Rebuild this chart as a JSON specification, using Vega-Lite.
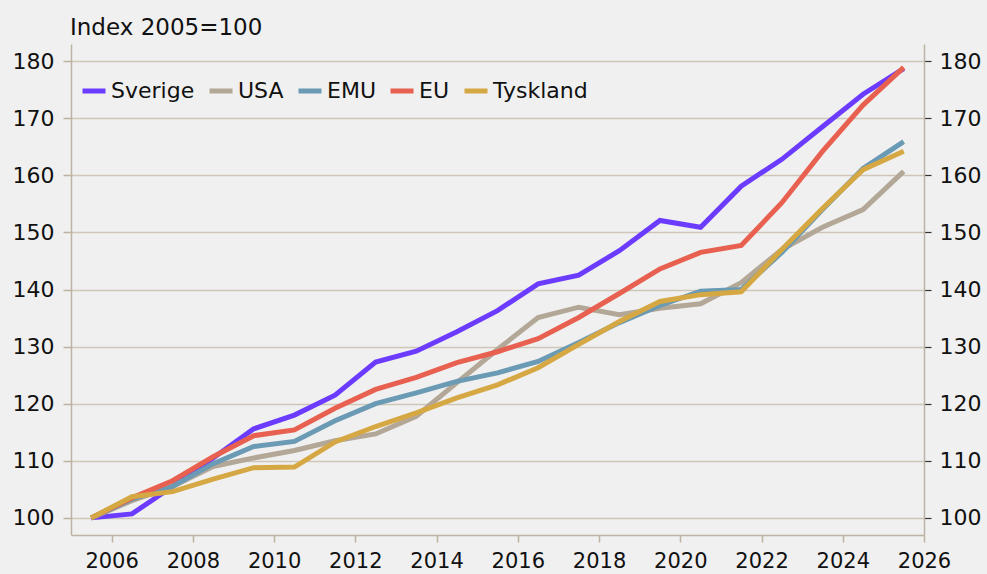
{
  "$schema": "https://vega.github.io/schema/vega-lite/v6.json",
  "autosize": {"type": "none"},
  "width": 853,
  "height": 491,
  "padding": {"left": 71, "top": 44, "right": 63, "bottom": 39},
  "background": "#f0f0f0",
  "config": {
    "view": {"stroke": null},
    "font": "DejaVu Sans",
    "axis": {"labelFont": "DejaVu Sans", "labelFontSize": 22, "labelColor": "#111111", "domainColor": "#bdb3a3", "tickColor": "#bdb3a3", "gridColor": "#cfc6b7", "domainWidth": 1.5, "tickWidth": 1.5, "gridWidth": 1.5, "labelOverlap": false, "labelFlush": false}
  },
  "title": {"text": "Index 2005=100", "anchor": "start", "frame": "group", "fontSize": 23, "fontWeight": "normal", "font": "DejaVu Sans", "color": "#111111", "offset": 4, "dx": -1},
  "data": {"values": [
    {"year": 2005.5, "country": "Sverige", "value": 100},
    {"year": 2006.5, "country": "Sverige", "value": 100.7},
    {"year": 2007.5, "country": "Sverige", "value": 105.5},
    {"year": 2008.5, "country": "Sverige", "value": 110.5},
    {"year": 2009.5, "country": "Sverige", "value": 115.6},
    {"year": 2010.5, "country": "Sverige", "value": 118},
    {"year": 2011.5, "country": "Sverige", "value": 121.5},
    {"year": 2012.5, "country": "Sverige", "value": 127.3},
    {"year": 2013.5, "country": "Sverige", "value": 129.2},
    {"year": 2014.5, "country": "Sverige", "value": 132.6},
    {"year": 2015.5, "country": "Sverige", "value": 136.3},
    {"year": 2016.5, "country": "Sverige", "value": 141},
    {"year": 2017.5, "country": "Sverige", "value": 142.5},
    {"year": 2018.5, "country": "Sverige", "value": 146.8},
    {"year": 2019.5, "country": "Sverige", "value": 152.1},
    {"year": 2020.5, "country": "Sverige", "value": 150.9},
    {"year": 2021.5, "country": "Sverige", "value": 158.1},
    {"year": 2022.5, "country": "Sverige", "value": 162.8},
    {"year": 2023.5, "country": "Sverige", "value": 168.5},
    {"year": 2024.5, "country": "Sverige", "value": 174.2},
    {"year": 2025.5, "country": "Sverige", "value": 178.7},
    {"year": 2005.5, "country": "USA", "value": 100},
    {"year": 2006.5, "country": "USA", "value": 103},
    {"year": 2007.5, "country": "USA", "value": 105.5},
    {"year": 2008.5, "country": "USA", "value": 109},
    {"year": 2009.5, "country": "USA", "value": 110.5},
    {"year": 2010.5, "country": "USA", "value": 111.8},
    {"year": 2011.5, "country": "USA", "value": 113.5},
    {"year": 2012.5, "country": "USA", "value": 114.7},
    {"year": 2013.5, "country": "USA", "value": 117.8},
    {"year": 2014.5, "country": "USA", "value": 123.7},
    {"year": 2015.5, "country": "USA", "value": 129.5},
    {"year": 2016.5, "country": "USA", "value": 135.1},
    {"year": 2017.5, "country": "USA", "value": 136.9},
    {"year": 2018.5, "country": "USA", "value": 135.6},
    {"year": 2019.5, "country": "USA", "value": 136.7},
    {"year": 2020.5, "country": "USA", "value": 137.5},
    {"year": 2021.5, "country": "USA", "value": 141.2},
    {"year": 2022.5, "country": "USA", "value": 147},
    {"year": 2023.5, "country": "USA", "value": 150.9},
    {"year": 2024.5, "country": "USA", "value": 154},
    {"year": 2025.5, "country": "USA", "value": 160.7},
    {"year": 2005.5, "country": "EMU", "value": 100},
    {"year": 2006.5, "country": "EMU", "value": 103.3},
    {"year": 2007.5, "country": "EMU", "value": 105.5},
    {"year": 2008.5, "country": "EMU", "value": 109.5},
    {"year": 2009.5, "country": "EMU", "value": 112.5},
    {"year": 2010.5, "country": "EMU", "value": 113.4},
    {"year": 2011.5, "country": "EMU", "value": 117},
    {"year": 2012.5, "country": "EMU", "value": 120},
    {"year": 2013.5, "country": "EMU", "value": 121.9},
    {"year": 2014.5, "country": "EMU", "value": 123.9},
    {"year": 2015.5, "country": "EMU", "value": 125.4},
    {"year": 2016.5, "country": "EMU", "value": 127.4},
    {"year": 2017.5, "country": "EMU", "value": 130.7},
    {"year": 2018.5, "country": "EMU", "value": 134.2},
    {"year": 2019.5, "country": "EMU", "value": 137.2},
    {"year": 2020.5, "country": "EMU", "value": 139.7},
    {"year": 2021.5, "country": "EMU", "value": 140},
    {"year": 2022.5, "country": "EMU", "value": 146.5},
    {"year": 2023.5, "country": "EMU", "value": 154},
    {"year": 2024.5, "country": "EMU", "value": 161.2},
    {"year": 2025.5, "country": "EMU", "value": 165.9},
    {"year": 2005.5, "country": "EU", "value": 100},
    {"year": 2006.5, "country": "EU", "value": 103.5},
    {"year": 2007.5, "country": "EU", "value": 106.5},
    {"year": 2008.5, "country": "EU", "value": 110.7},
    {"year": 2009.5, "country": "EU", "value": 114.4},
    {"year": 2010.5, "country": "EU", "value": 115.4},
    {"year": 2011.5, "country": "EU", "value": 119.2},
    {"year": 2012.5, "country": "EU", "value": 122.5},
    {"year": 2013.5, "country": "EU", "value": 124.6},
    {"year": 2014.5, "country": "EU", "value": 127.2},
    {"year": 2015.5, "country": "EU", "value": 129.1},
    {"year": 2016.5, "country": "EU", "value": 131.4},
    {"year": 2017.5, "country": "EU", "value": 135.1},
    {"year": 2018.5, "country": "EU", "value": 139.3},
    {"year": 2019.5, "country": "EU", "value": 143.6},
    {"year": 2020.5, "country": "EU", "value": 146.5},
    {"year": 2021.5, "country": "EU", "value": 147.7},
    {"year": 2022.5, "country": "EU", "value": 155.2},
    {"year": 2023.5, "country": "EU", "value": 164.2},
    {"year": 2024.5, "country": "EU", "value": 172.3},
    {"year": 2025.5, "country": "EU", "value": 178.9},
    {"year": 2005.5, "country": "Tyskland", "value": 100},
    {"year": 2006.5, "country": "Tyskland", "value": 103.7},
    {"year": 2007.5, "country": "Tyskland", "value": 104.6},
    {"year": 2008.5, "country": "Tyskland", "value": 106.8},
    {"year": 2009.5, "country": "Tyskland", "value": 108.8},
    {"year": 2010.5, "country": "Tyskland", "value": 108.9},
    {"year": 2011.5, "country": "Tyskland", "value": 113.3},
    {"year": 2012.5, "country": "Tyskland", "value": 116},
    {"year": 2013.5, "country": "Tyskland", "value": 118.4},
    {"year": 2014.5, "country": "Tyskland", "value": 121},
    {"year": 2015.5, "country": "Tyskland", "value": 123.3},
    {"year": 2016.5, "country": "Tyskland", "value": 126.3},
    {"year": 2017.5, "country": "Tyskland", "value": 130.4},
    {"year": 2018.5, "country": "Tyskland", "value": 134.4},
    {"year": 2019.5, "country": "Tyskland", "value": 137.9},
    {"year": 2020.5, "country": "Tyskland", "value": 139.1},
    {"year": 2021.5, "country": "Tyskland", "value": 139.6},
    {"year": 2022.5, "country": "Tyskland", "value": 147},
    {"year": 2023.5, "country": "Tyskland", "value": 154.2},
    {"year": 2024.5, "country": "Tyskland", "value": 161},
    {"year": 2025.5, "country": "Tyskland", "value": 164.2}
  ]},
  "layer": [
    {
      "mark": {"type": "line", "strokeOpacity": 0},
      "encoding": {
        "x": {"field": "year", "type": "quantitative", "scale": {"domain": [2005, 2026], "nice": false, "zero": false}, "axis": {"title": null, "values": [2006, 2008, 2010, 2012, 2014, 2016, 2018, 2020, 2022, 2024, 2026], "format": "d", "grid": false, "tickSize": 7, "labelFontSize": 21, "labelBaseline": "alphabetic", "labelPadding": 25, "labelOverlap": false, "labelFlush": false}},
        "y": {"field": "value", "type": "quantitative", "scale": {"domain": [97, 183], "nice": false, "zero": false}, "axis": {"orient": "right", "title": null, "values": [100, 110, 120, 130, 140, 150, 160, 170, 180], "grid": false, "tickSize": 7, "tickColor": "#333333", "tickWidth": 1.2, "labelPadding": 8}},
        "detail": {"field": "country"}
      }
    },
    {
      "mark": {"type": "line", "strokeWidth": 5},
      "encoding": {
        "x": {"field": "year", "type": "quantitative", "scale": {"domain": [2005, 2026], "nice": false, "zero": false}, "axis": {"title": null, "values": [2006, 2008, 2010, 2012, 2014, 2016, 2018, 2020, 2022, 2024, 2026], "format": "d", "grid": false, "tickSize": 7, "labelFontSize": 21, "labelBaseline": "alphabetic", "labelPadding": 25, "labelOverlap": false, "labelFlush": false}},
        "y": {"field": "value", "type": "quantitative", "scale": {"domain": [97, 183], "nice": false, "zero": false}, "axis": {"orient": "left", "title": null, "values": [100, 110, 120, 130, 140, 150, 160, 170, 180], "grid": true, "tickSize": 8, "labelPadding": 9}},
        "color": {"field": "country", "type": "nominal", "sort": ["Sverige", "USA", "EMU", "EU", "Tyskland"],
          "scale": {"domain": ["Sverige", "USA", "EMU", "EU", "Tyskland"], "range": ["#6b3cff", "#b3a797", "#6b9ab4", "#e8604f", "#d6a843"]},
          "legend": {"title": null, "orient": "none", "legendX": 9, "legendY": 33, "direction": "horizontal", "symbolType": "stroke", "symbolStrokeWidth": 5, "symbolSize": 529, "labelFontSize": 22, "labelFont": "DejaVu Sans", "labelColor": "#111111", "labelOffset": 3, "columnPadding": 4}
        },
        "order": {"field": "country"}
      }
    }
  ],
  "resolve": {"axis": {"y": "independent"}}
}
